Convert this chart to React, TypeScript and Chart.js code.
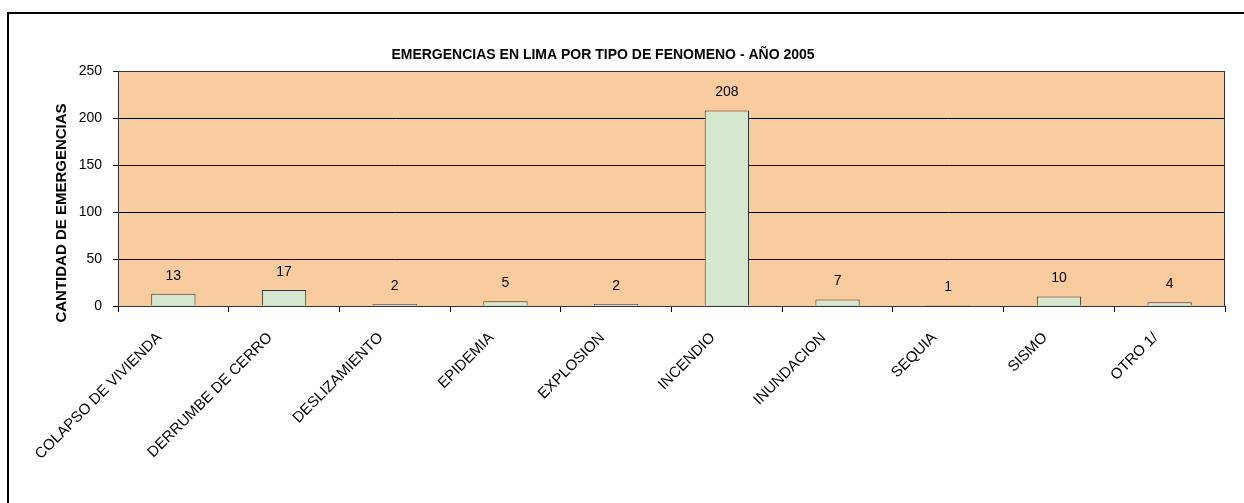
import React, { useEffect, useRef } from 'react';
import { Chart, registerables } from 'chart.js';

Chart.register(...registerables);

const categories = [
  'COLAPSO DE VIVIENDA',
  'DERRUMBE DE CERRO',
  'DESLIZAMIENTO',
  'EPIDEMIA',
  'EXPLOSION',
  'INCENDIO',
  'INUNDACION',
  'SEQUIA',
  'SISMO',
  'OTRO 1/',
];
const values = [13, 17, 2, 5, 2, 208, 7, 1, 10, 4];
const yMin = 0;
const yMax = 250;
const yStep = 50;
const chartTitle = 'EMERGENCIAS EN LIMA POR TIPO DE FENOMENO - AÑO 2005';
const yTitle = 'CANTIDAD DE EMERGENCIAS';

const FONT = '"Liberation Sans", Arial, sans-serif';
const PLOT_BG = '#F9CC9F';
const BAR_FILL = '#D5E8CF';
const BAR_BORDER = '#333333';

const decorPlugin = {
  id: 'decor',
  beforeDraw(chart: any) {
    const { ctx, chartArea } = chart;
    ctx.save();
    ctx.fillStyle = PLOT_BG;
    ctx.fillRect(chartArea.left, chartArea.top, chartArea.right - chartArea.left, chartArea.bottom - chartArea.top);
    ctx.restore();
  },
  afterDatasetsDraw(chart: any) {
    const { ctx, chartArea } = chart;
    ctx.save();
    // plot border
    ctx.strokeStyle = '#333333';
    ctx.lineWidth = 1;
    ctx.strokeRect(Math.round(chartArea.left) + 0.5, Math.round(chartArea.top) + 0.5,
      Math.round(chartArea.right - chartArea.left) - 1, Math.round(chartArea.bottom - chartArea.top));
    // value labels
    const meta = chart.getDatasetMeta(0);
    ctx.fillStyle = '#000';
    ctx.font = `14px ${FONT}`;
    ctx.textAlign = 'center';
    ctx.textBaseline = 'middle';
    meta.data.forEach((bar: any, i: number) => {
      ctx.fillText(String(values[i]), bar.x, bar.y - 18);
    });
    // chart title
    ctx.font = `bold 14px ${FONT}`;
    ctx.fillText(chartTitle, 603, 55);
    // y axis title
    ctx.translate(62, 213);
    ctx.rotate(-Math.PI / 2);
    ctx.font = `bold 15px ${FONT}`;
    ctx.fillText(yTitle, 0, 0);
    ctx.restore();
  },
};

export default function App() {
  const canvasRef = useRef<HTMLCanvasElement>(null);

  useEffect(() => {
    if (!canvasRef.current) return;
    const chart = new Chart(canvasRef.current, {
      type: 'bar',
      data: {
        labels: categories,
        datasets: [
          {
            data: values,
            backgroundColor: BAR_FILL,
            borderColor: BAR_BORDER,
            borderWidth: 1,
            barPercentage: 0.4,
            categoryPercentage: 1,
          },
        ],
      },
      options: {
        responsive: false,
        animation: false,
        layout: { padding: { left: 0, right: 19, top: 71, bottom: 0 } },
        plugins: {
          legend: { display: false },
          title: { display: false },
          tooltip: { enabled: false },
        },
        scales: {
          x: {
            grid: {
              offset: true,
              drawOnChartArea: false,
              drawTicks: true,
              tickLength: 6,
              color: '#000',
            },
            border: { display: true, color: '#000' },
            ticks: {
              autoSkip: false,
              maxRotation: 45,
              minRotation: 45,
              labelOffset: -14,
              padding: 17,
              color: '#000',
              font: { family: FONT, size: 15 },
            },
            afterFit: (scale: any) => {
              scale.height = 197;
            },
          },
          y: {
            min: yMin,
            max: yMax,
            grid: {
              color: '#000',
              lineWidth: 1,
              drawTicks: true,
              tickLength: 5,
            },
            border: { display: true, color: '#000' },
            ticks: {
              stepSize: yStep,
              padding: 11,
              color: '#000',
              font: { family: FONT, size: 14 },
            },
            afterFit: (scale: any) => {
              scale.width = 118;
            },
          },
        },
      },
      plugins: [decorPlugin],
    });
    return () => chart.destroy();
  }, []);

  return (
    <div style={{ position: 'absolute', left: 0, top: 0, width: 1244, height: 503, background: '#fff', overflow: 'hidden' }}>
      <canvas ref={canvasRef} width={1244} height={503} style={{ position: 'absolute', left: 0, top: 0 }} />
      <div style={{ position: 'absolute', left: 7, top: 12, width: 1237, height: 2, background: '#000' }} />
      <div style={{ position: 'absolute', left: 7, top: 12, width: 2, height: 491, background: '#000' }} />
    </div>
  );
}
